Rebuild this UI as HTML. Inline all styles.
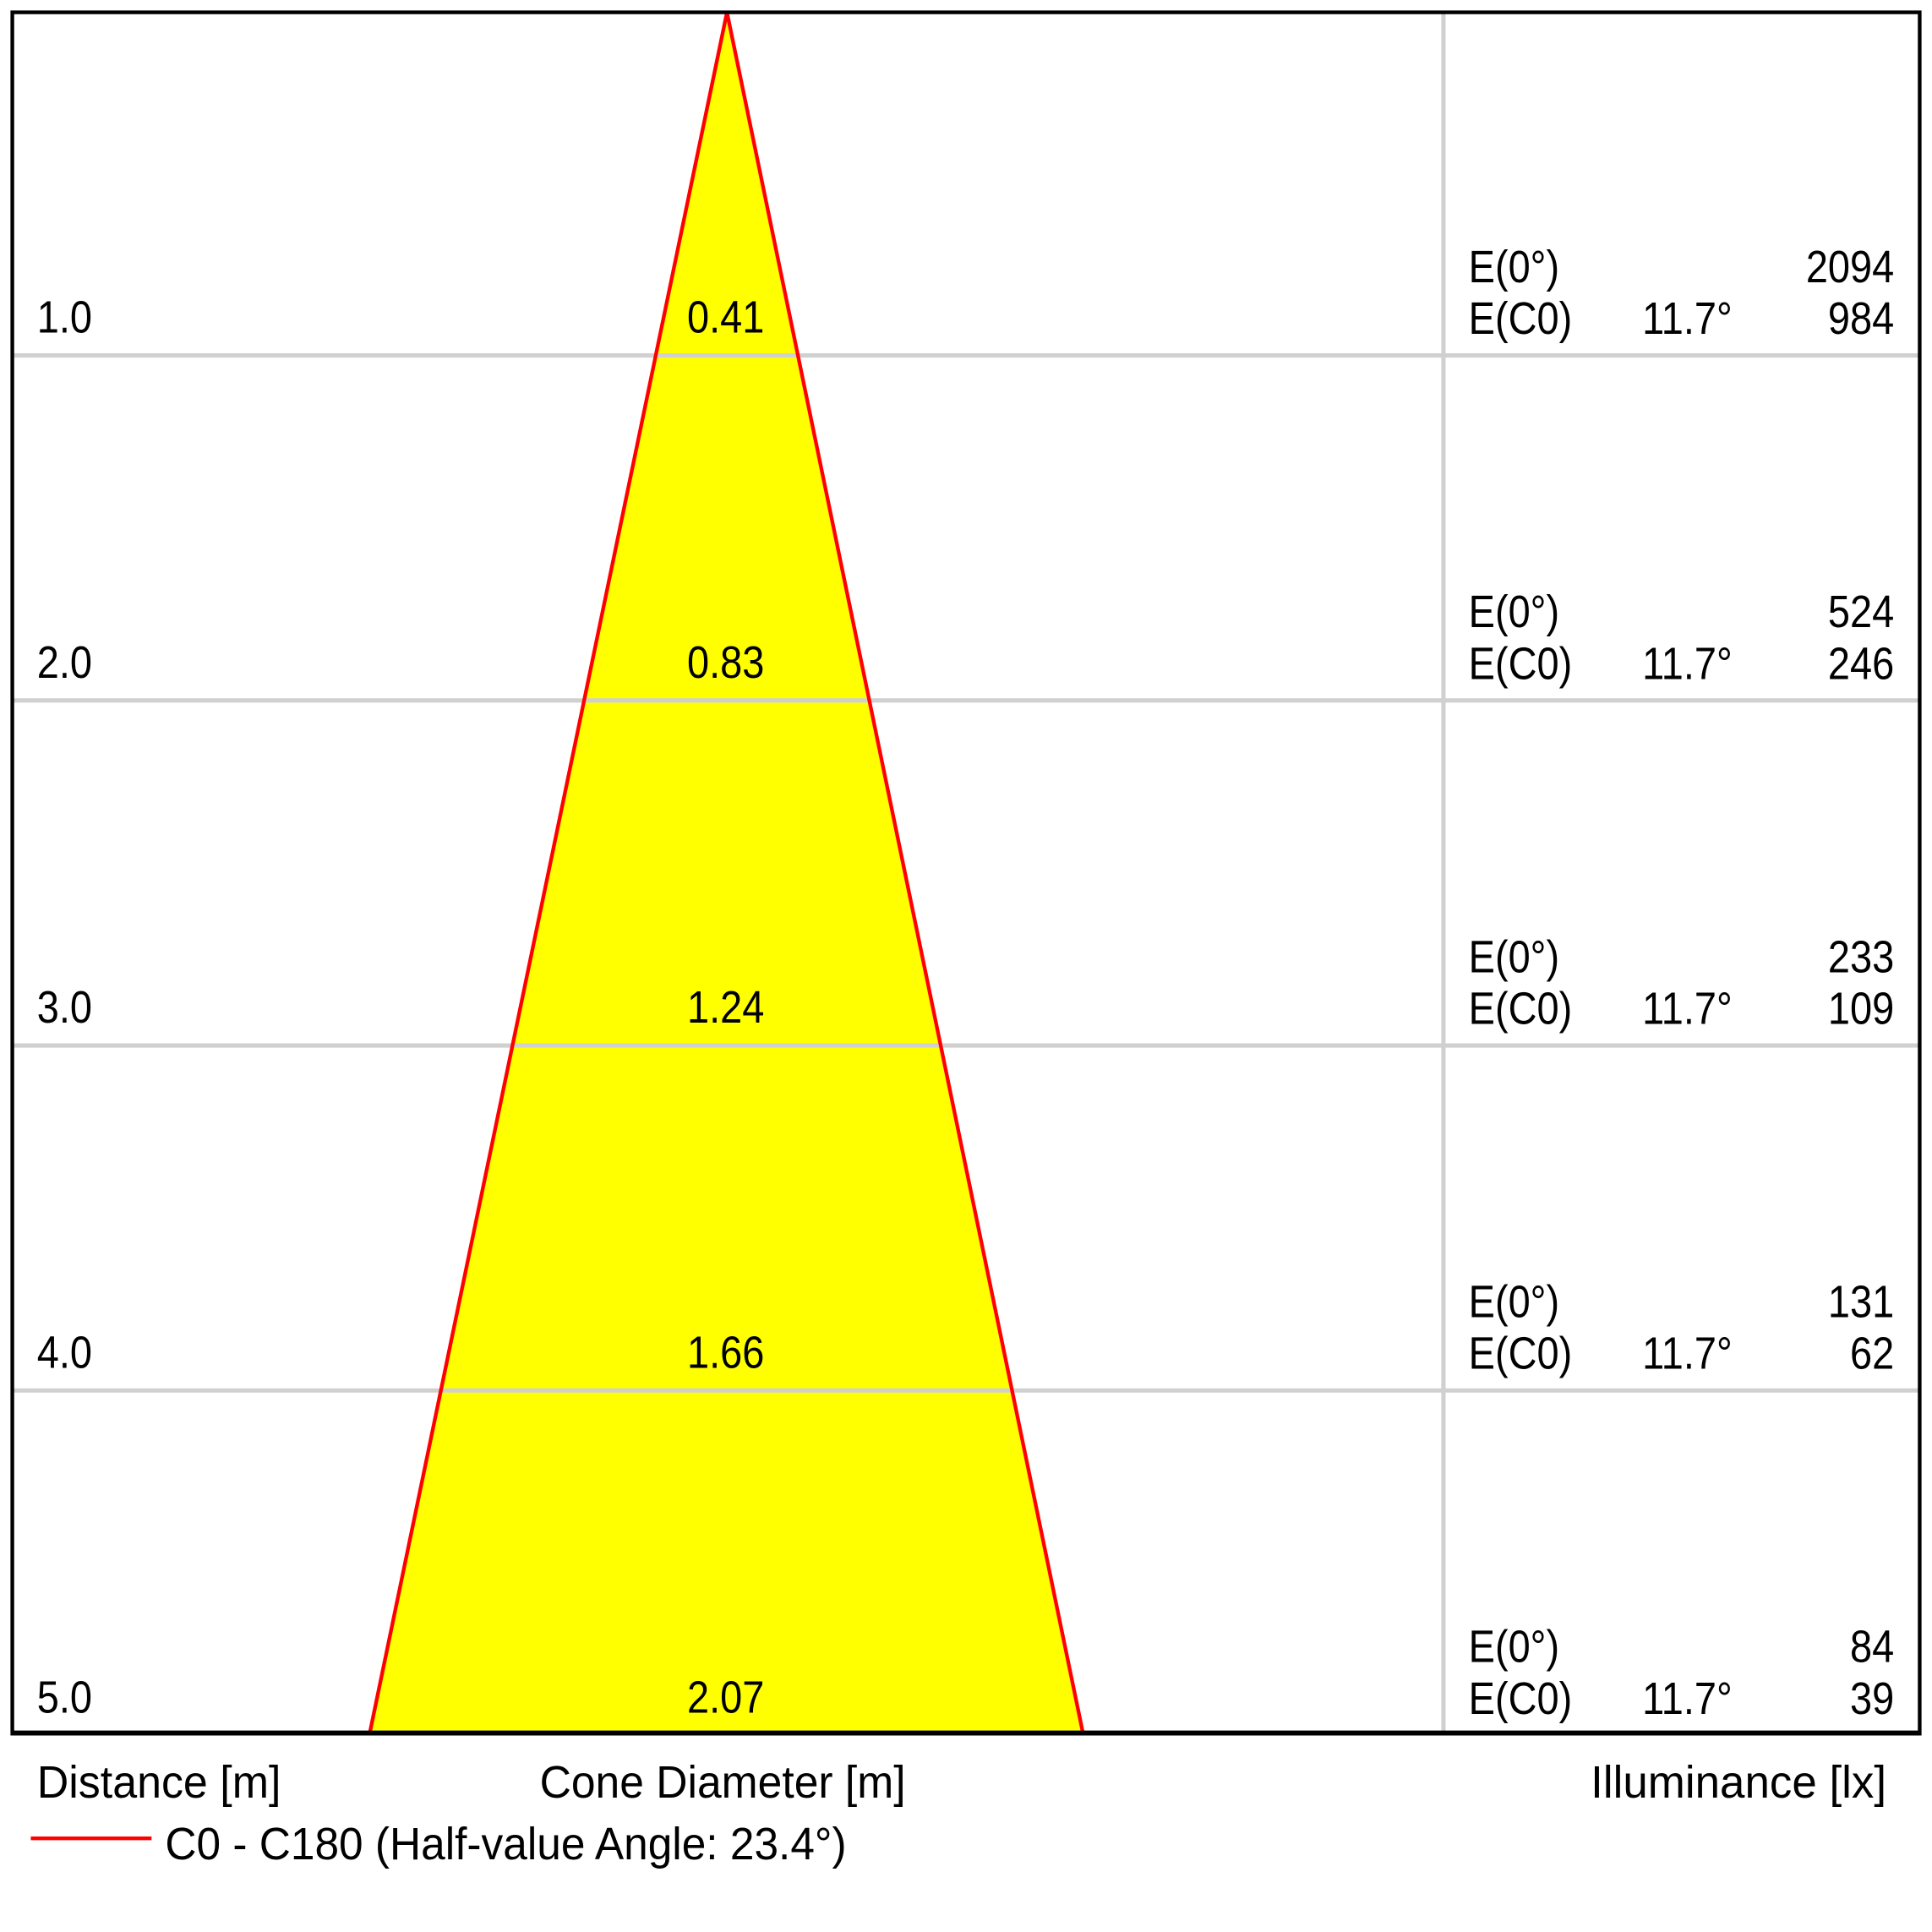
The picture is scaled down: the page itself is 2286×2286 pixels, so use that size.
<!DOCTYPE html>
<html><head><meta charset="utf-8"><style>
html,body{margin:0;padding:0;background:#fff;}
svg{display:block;}
text{font-family:"Liberation Sans","DejaVu Sans",sans-serif;font-size:37px;fill:#000;}
</style></head><body>
<svg width="2286" height="2286" viewBox="0 0 1568 1568" xmlns="http://www.w3.org/2000/svg">
<rect width="1568" height="1568" fill="#fff"/>
<polygon points="590,10 300,1407 879,1407" fill="#ffff00"/>
<g stroke="#d0d0d0" stroke-width="3.5">
<line x1="10" y1="288.5" x2="1558" y2="288.5"/>
<line x1="10" y1="568.5" x2="1558" y2="568.5"/>
<line x1="10" y1="848.5" x2="1558" y2="848.5"/>
<line x1="10" y1="1128.5" x2="1558" y2="1128.5"/>
<line x1="1171.5" y1="10" x2="1171.5" y2="1407"/>
</g>
<polygon points="590,10 300,1407 879,1407" fill="none" stroke="#ff0000" stroke-width="3" stroke-linejoin="miter"/>
<rect x="10" y="10" width="1548" height="1397" fill="none" stroke="#000" stroke-width="3"/>
<line x1="10" y1="1406.5" x2="1558" y2="1406.5" stroke="#000" stroke-width="4"/>
<g transform="scale(0.87,1)">
<g>
<text x="34.5" y="270">1.0</text><text x="34.5" y="550">2.0</text><text x="34.5" y="830">3.0</text><text x="34.5" y="1110">4.0</text><text x="34.5" y="1390">5.0</text>
</g>
<g text-anchor="middle">
<text x="677" y="270">0.41</text><text x="677" y="550">0.83</text><text x="677" y="830">1.24</text><text x="677" y="1110">1.66</text><text x="677" y="1390">2.07</text>
</g>
<g>
<text x="1370" y="229">E(0°)</text><text x="1370" y="271">E(C0)</text><text x="1532" y="271">11.7°</text>
<text x="1370" y="509">E(0°)</text><text x="1370" y="551">E(C0)</text><text x="1532" y="551">11.7°</text>
<text x="1370" y="789">E(0°)</text><text x="1370" y="831">E(C0)</text><text x="1532" y="831">11.7°</text>
<text x="1370" y="1069">E(0°)</text><text x="1370" y="1111">E(C0)</text><text x="1532" y="1111">11.7°</text>
<text x="1370" y="1349">E(0°)</text><text x="1370" y="1391">E(C0)</text><text x="1532" y="1391">11.7°</text>
</g>
<g text-anchor="end">
<text x="1767" y="229">2094</text><text x="1767" y="271">984</text>
<text x="1767" y="509">524</text><text x="1767" y="551">246</text>
<text x="1767" y="789">233</text><text x="1767" y="831">109</text>
<text x="1767" y="1069">131</text><text x="1767" y="1111">62</text>
<text x="1767" y="1349">84</text><text x="1767" y="1391">39</text>
</g>
</g>
<text x="30" y="1459" textLength="198" lengthAdjust="spacingAndGlyphs">Distance [m]</text>
<text x="438" y="1459" textLength="297" lengthAdjust="spacingAndGlyphs">Cone Diameter [m]</text>
<text x="1291" y="1459" textLength="240" lengthAdjust="spacingAndGlyphs">Illuminance [lx]</text>
<line x1="25" y1="1492" x2="123" y2="1492" stroke="#ff0000" stroke-width="3"/>
<text x="134" y="1509" textLength="553" lengthAdjust="spacingAndGlyphs">C0 - C180 (Half-value Angle: 23.4°)</text>
</svg>
</body></html>
